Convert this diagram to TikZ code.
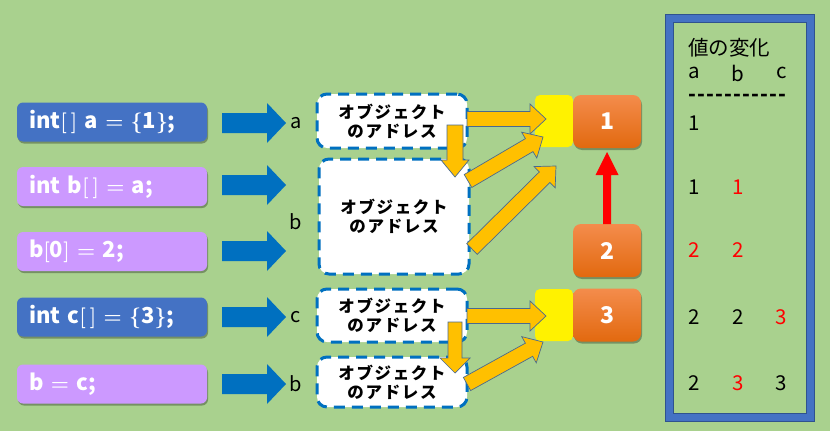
\documentclass[tikz,border=0pt]{standalone}
\usepackage{fontspec}
\setmainfont{Noto Sans CJK JP}
\usetikzlibrary{calc,shadows}
\definecolor{bg}{HTML}{A9D18E}
\definecolor{codeblue}{HTML}{4472C4}
\definecolor{codepurple}{HTML}{CC99FF}
\definecolor{arrowblue}{HTML}{0070C0}
\definecolor{gold}{HTML}{FFC000}
\definecolor{goldline}{HTML}{4A6A8F}
\definecolor{orangetop}{HTML}{F48C4C}
\definecolor{orangebot}{HTML}{E2690F}
\definecolor{panelblue}{HTML}{4472C4}
\definecolor{paneldark}{HTML}{2F528F}
\definecolor{numred}{HTML}{FF0000}
\newcommand\dsh{\makebox[9pt]{\bfseries -}}
\newcommand\mb[1]{{\boldmath$\mathsurround=0pt#1$}}
\tikzset{
  blk/.style n args={3}{to path={
    ($(\tikztostart)!#1!90:(\tikztotarget)$)
    -- ($(\tikztotarget)!#3!(\tikztostart)!#1!-90:(\tikztostart)$)
    -- ($(\tikztotarget)!#3!(\tikztostart)!#2!-90:(\tikztostart)$)
    -- (\tikztotarget)
    -- ($(\tikztotarget)!#3!(\tikztostart)!#2!90:(\tikztostart)$)
    -- ($(\tikztotarget)!#3!(\tikztostart)!#1!90:(\tikztostart)$)
    -- ($(\tikztostart)!#1!-90:(\tikztotarget)$)
    -- cycle}},
  bluearrow/.style={fill=arrowblue, blk={10pt}{20pt}{19pt}},
  goldarrow/.style={fill=gold, draw=goldline, line width=0.7pt, line join=miter, blk={7.5pt}{15pt}{16pt}},
  codebox/.style={rounded corners=6pt, minimum height=39pt, text width=166pt, inner xsep=12pt,
    align=left, text=white, font=\bfseries\fontsize{22}{26}\selectfont,
    drop shadow={shadow xshift=1pt, shadow yshift=-2pt, opacity=0.3, fill=black}},
  objbox/.style={draw=arrowblue, fill=white, line width=3pt, dash pattern=on 11pt off 7pt,
    rounded corners=10pt, minimum width=150pt, align=center, inner sep=0pt,
    font=\bfseries\fontsize{16.5}{19}\selectfont\addfontfeature{LetterSpace=10}},
  ybox/.style={fill=yellow, rounded corners=5pt, minimum width=38pt, minimum height=52pt, inner sep=0pt},
  obox/.style={top color=orangetop, bottom color=orangebot, rounded corners=8pt, minimum width=68pt,
    minimum height=53pt, inner sep=0pt, text=white, font=\bfseries\fontsize{23}{26}\selectfont,
    drop shadow={shadow xshift=1pt, shadow yshift=-2pt, opacity=0.3, fill=black}},
  varlbl/.style={font=\fontsize{20}{22}\selectfont, inner sep=0pt},
  ptxt/.style={font=\fontsize{20.5}{23}\selectfont, inner sep=0pt},
}
\begin{document}
\begin{tikzpicture}[x=1pt,y=-1pt]
\fill[bg] (0,0) rectangle (830,431);
\useasboundingbox (0,0) rectangle (830,431);

% code boxes
\node[codebox, fill=codeblue] (c1) at (112,122) {int\mb{[\,]} a \mb{=} \mb{\{}1\mb{\}};};
\node[codebox, fill=codepurple] (c2) at (112,186.5) {int b\mb{[\,]} \mb{=} a;};
\node[codebox, fill=codepurple] (c3) at (112,251.5) {b\mb{[}0\mb{]} \mb{=} 2;};
\node[codebox, fill=codeblue] (c4) at (112,317) {int c\mb{[\,]} \mb{=} \mb{\{}3\mb{\}};};
\node[codebox, fill=codepurple] (c5) at (112,384) {b \mb{=} c;};

% blue arrows
\coordinate (bs1) at (222,123); \coordinate (be1) at (286,123);
\coordinate (bs2) at (222,185); \coordinate (be2) at (286,185);
\coordinate (bs3) at (222,251); \coordinate (be3) at (286,251);
\coordinate (bs4) at (222,317); \coordinate (be4) at (286,317);
\coordinate (bs5) at (222,384); \coordinate (be5) at (286,384);
\path[bluearrow] (bs1) to (be1);
\path[bluearrow] (bs2) to (be2);
\path[bluearrow] (bs3) to (be3);
\path[bluearrow] (bs4) to (be4);
\path[bluearrow] (bs5) to (be5);

% variable labels
\node[varlbl] (la) at (296,123) {a};
\node[varlbl] (lb) at (296,222) {b};
\node[varlbl] (lc) at (296,317) {c};
\node[varlbl] (lb2) at (296,384) {b};

% object boxes
\node[objbox, minimum height=54pt] (oa) at (392,121) {オブジェクト\\のアドレス};
\node[objbox, minimum height=115pt] (ob) at (394,216.5) {オブジェクト\\のアドレス};
\node[objbox, minimum height=53pt] (oc) at (392,315.5) {オブジェクト\\のアドレス};
\node[objbox, minimum height=50pt] (od) at (392,382) {オブジェクト\\のアドレス};

% value boxes
\node[ybox] (ya) at (554,121) {};
\node[obox] (v1) at (607,121.5) {1};
\node[obox] (v2) at (607,250.5) {2};
\node[ybox] (yc) at (554,315) {};
\node[obox] (v3) at (607,315) {3};

% red arrow
\coordinate (rs) at (607,224); \coordinate (re) at (607,152);
\path[fill=numred, blk={4pt}{11.5pt}{23pt}] (rs) to (re);

% gold arrows
\coordinate (g1s) at (467,119); \coordinate (g1e) at (546,119);
\coordinate (g2s) at (455,125); \coordinate (g2e) at (455,177);
\coordinate (g3s) at (468,181); \coordinate (g3e) at (543,137);
\coordinate (g4s) at (472,249); \coordinate (g4e) at (556,166);
\coordinate (g5s) at (467,316); \coordinate (g5e) at (546,316);
\coordinate (g6s) at (455,322); \coordinate (g6e) at (455,373);
\coordinate (g7s) at (467,384); \coordinate (g7e) at (543,342);
\path[goldarrow] (g1s) to (g1e);
\path[goldarrow, blk={8pt}{14pt}{17pt}] (g2s) to (g2e);
\path[goldarrow] (g3s) to (g3e);
\path[goldarrow] (g4s) to (g4e);
\path[goldarrow] (g5s) to (g5e);
\path[goldarrow, blk={7pt}{15pt}{15pt}] (g6s) to (g6e);
\path[goldarrow] (g7s) to (g7e);

% panel
\draw[panelblue, line width=8pt] (669,18) rectangle (810,417);
\draw[paneldark, line width=0.8pt] (665,14) rectangle (814,421);
\draw[paneldark, line width=0.8pt] (673,22) rectangle (806,413);

\node[ptxt, anchor=west] (ttl) at (688,48) {値の変化};
\node[ptxt] (ha) at (694,73) {a};
\node[ptxt] (hb) at (738,73) {b};
\node[ptxt] (hc) at (782,73) {c};
\node[ptxt, anchor=west] (dl) at (688,98) {\dsh\dsh\dsh\dsh\dsh\dsh\dsh\dsh\dsh\dsh\dsh};
\node[ptxt] (r1a) at (694,123) {1};
\node[ptxt] (r2a) at (694,187) {1};
\node[ptxt, text=numred] (r2b) at (738,187) {1};
\node[ptxt, text=numred] (r3a) at (694,250) {2};
\node[ptxt, text=numred] (r3b) at (738,250) {2};
\node[ptxt] (r4a) at (694,317) {2};
\node[ptxt] (r4b) at (738,317) {2};
\node[ptxt, text=numred] (r4c) at (781,317) {3};
\node[ptxt] (r5a) at (694,383) {2};
\node[ptxt, text=numred] (r5b) at (738,383) {3};
\node[ptxt] (r5c) at (781,383) {3};
\end{tikzpicture}
\end{document}
